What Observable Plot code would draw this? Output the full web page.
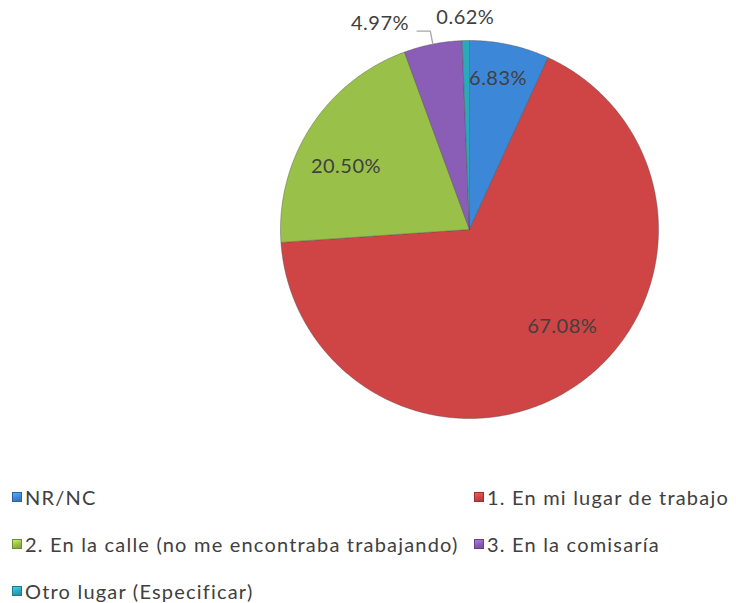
<!DOCTYPE html>
<html><head><meta charset="utf-8">
<script src="https://cdn.jsdelivr.net/npm/d3@7"></script>
<script src="https://cdn.jsdelivr.net/npm/@observablehq/plot@0.6"></script>
<style>
body{margin:0;background:#fff;font-family:Lato,"Open Sans",sans-serif;}
#wrap{width:736px;height:603px;position:relative;overflow:hidden;}
#legend{position:absolute;left:12px;top:483px;display:grid;grid-template-columns:462px auto;grid-auto-rows:47px;font-size:20px;letter-spacing:1.2px;color:#404040;}
.item{display:flex;align-items:flex-start;white-space:nowrap;height:28px;line-height:28px;}
.sw{width:10px;height:10px;margin-right:3px;margin-top:9px;box-sizing:border-box;}
</style></head>
<body><div id="wrap"></div>
<script>
const categories = ["NR/NC", "1. En mi lugar de trabajo", "2. En la calle (no me encontraba trabajando)", "3. En la comisaría", "Otro lugar (Especificar)"];
const values = [6.83, 67.08, 20.50, 4.97, 0.62];
const valueLabels = ["6.83%", "67.08%", "20.50%", "4.97%", "0.62%"];
const colors = ["#3d87d8", "#cf4444", "#99c048", "#8a5db6", "#2aa9bd"];

// layout nudges for inside labels (pixels), mimicking the spreadsheet's best-fit placement
const labelNudge = {"NR/NC": [-2, -11], "1. En mi lugar de trabajo": [11, -21], "2. En la calle (no me encontraba trabajando)": [-3, 15]};

const arcs = d3.pie().sort(null).value(d => d)(values);
const polar = (a, r) => ({x: r * Math.sin(a), y: r * Math.cos(a)});
const R = 189; // pixel radius, matches the x/y ranges below

const slicePts = [];
arcs.forEach((a, i) => {
  const c = categories[i];
  slicePts.push({cat: c, ...polar(0, 0)});
  const n = Math.max(2, Math.ceil((a.endAngle - a.startAngle) / 0.01));
  for (let k = 0; k <= n; k++) {
    const t = a.startAngle + (a.endAngle - a.startAngle) * k / n;
    slicePts.push({cat: c, ...polar(t, 1)});
  }
  slicePts.push({cat: c, ...polar(0, 0)});
});

const mids = arcs.map((a, i) => ({cat: categories[i], label: valueLabels[i], v: values[i], mid: (a.startAngle + a.endAngle) / 2}));
const inside = mids.filter(d => d.v >= 5).map(d => {
  const p = polar(d.mid, 0.76);
  const [nx, ny] = labelNudge[d.cat] || [0, 0];
  return {...d, x: p.x + nx / R, y: p.y - ny / R};
});
const outside = mids.filter(d => d.v < 5);
const leaderPts = [];
const outLabels = [];
outside.forEach((d, j) => {
  if (j < outside.length - 1) {
    const p0 = polar(d.mid, 1.0), p1 = polar(d.mid, 1.07);
    const p2 = {x: p1.x - 0.07, y: p1.y};
    leaderPts.push({cat: d.cat, ...p0}, {cat: d.cat, ...p1}, {cat: d.cat, ...p2});
    outLabels.push({...d, x: p2.x, y: p2.y, anchor: "end"});
  } else {
    const p = polar(d.mid, 1.12);
    outLabels.push({...d, x: p.x, y: p.y, anchor: "middle"});
  }
});

const txt = {fontSize: 20, fill: "#404040"};
const chart = Plot.plot({
  width: 736,
  height: 460,
  margin: 0,
  x: {domain: [-1, 1], range: [280, 658], axis: null},
  y: {domain: [-1, 1], range: [418, 40], axis: null},
  color: {domain: categories, range: colors},
  style: {fontFamily: "Lato, 'Open Sans', sans-serif", background: "#fff", letterSpacing: "0.5px"},
  marks: [
    Plot.line(slicePts, {x: "x", y: "y", z: "cat", fill: "cat", stroke: "#4a4a4a", strokeOpacity: 0.4, strokeWidth: 1, curve: "linear"}),
    Plot.line(leaderPts, {x: "x", y: "y", z: "cat", stroke: "#a6a6a6", strokeWidth: 1.3}),
    Plot.text(inside, {x: "x", y: "y", text: "label", ...txt, textAnchor: "middle"}),
    Plot.text(outLabels.filter(d => d.anchor === "end"), {x: "x", y: "y", text: "label", ...txt, textAnchor: "end", dx: -8, dy: -8}),
    Plot.text(outLabels.filter(d => d.anchor === "middle"), {x: "x", y: "y", text: "label", ...txt, textAnchor: "middle"})
  ]
});
const wrap = document.getElementById("wrap");
wrap.appendChild(chart);

const legend = document.createElement("div");
legend.id = "legend";
categories.forEach((c, i) => {
  const it = document.createElement("div");
  it.className = "item";
  const sw = document.createElement("span");
  sw.className = "sw";
  const col = d3.color(colors[i]);
  sw.style.background = `linear-gradient(160deg, ${col.brighter(0.7)}, ${col} 55%, ${col.darker(0.5)})`;
  sw.style.border = `1px solid ${col.darker(0.9)}`;
  const tx = document.createElement("span");
  tx.textContent = c;
  it.appendChild(sw); it.appendChild(tx);
  legend.appendChild(it);
});
wrap.appendChild(legend);
</script>
</body></html>
